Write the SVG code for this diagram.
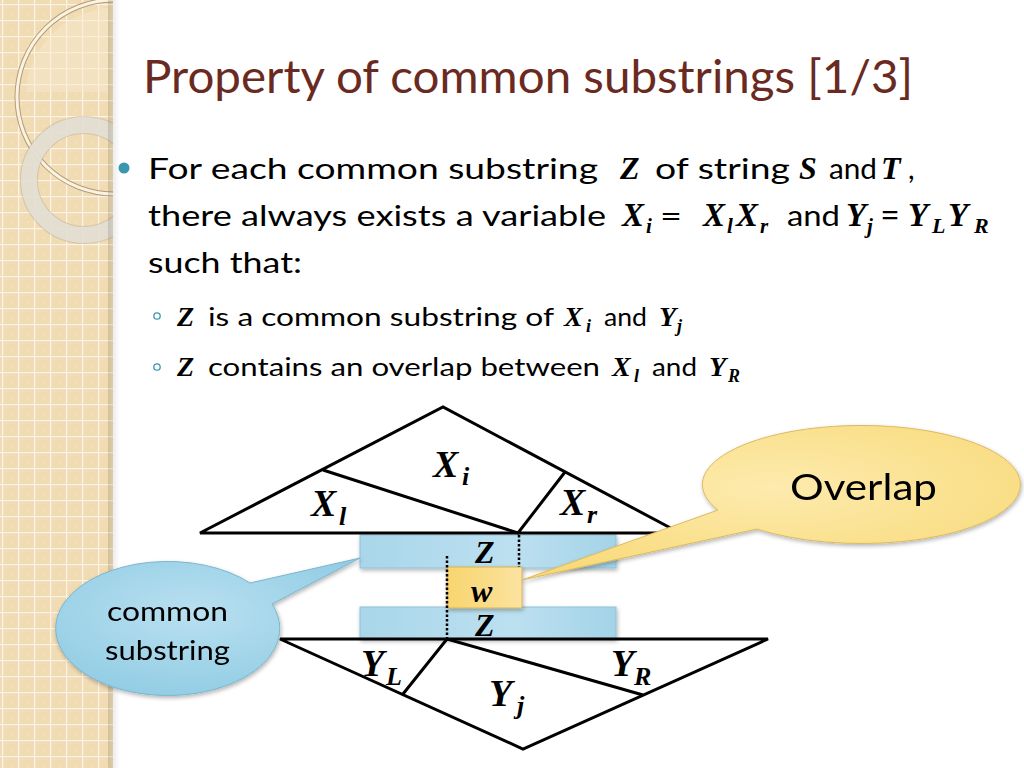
<svg xmlns="http://www.w3.org/2000/svg" width="1024" height="768" viewBox="0 0 1024 768">
<defs>
<style>
.body{font-family:Lato,"Open Sans","Liberation Sans",sans-serif;fill:#000}
.m{font-family:"Liberation Serif","DejaVu Serif",serif;font-style:italic;font-weight:bold;fill:#000}
.edge{stroke:#000;stroke-width:3;fill:none;stroke-linejoin:miter}
.dot{stroke:#000;stroke-width:2.5;stroke-dasharray:2.5 2;fill:none}
.lbl{font-family:"Liberation Serif","DejaVu Serif",serif;font-style:italic;font-weight:bold;fill:#000}
</style>
<pattern id="grid" width="16" height="16" patternUnits="userSpaceOnUse" x="2" y="4">
<rect width="16" height="16" fill="#F0DBB3"/>
<rect x="3" y="3" width="2" height="2" fill="#F5E4C4" opacity="0.6"/>
<rect x="9" y="9" width="2" height="2" fill="#F5E4C4" opacity="0.6"/>
<path d="M0 0.5H16M0.5 0V16" stroke="#FBF4E6" stroke-width="1.6"/>
</pattern>
<clipPath id="strip"><rect x="0" y="0" width="113" height="768"/></clipPath>
<linearGradient id="shadow" x1="0" x2="1" y1="0" y2="0">
<stop offset="0" stop-color="#000" stop-opacity="0.16"/>
<stop offset="1" stop-color="#000" stop-opacity="0"/>
</linearGradient>
<linearGradient id="blueBar" x1="0" x2="1" y1="0" y2="0">
<stop offset="0" stop-color="#A9D6EA"/>
<stop offset="0.6" stop-color="#BCE0F0"/>
<stop offset="1" stop-color="#A4D3E8"/>
</linearGradient>
<radialGradient id="blueCall" cx="0.45" cy="0.4" r="0.7">
<stop offset="0" stop-color="#B9E0F0"/>
<stop offset="1" stop-color="#8DCAE3"/>
</radialGradient>
<radialGradient id="yelCall" cx="0.5" cy="0.4" r="0.7">
<stop offset="0" stop-color="#FDEBAE"/>
<stop offset="1" stop-color="#F8D977"/>
</radialGradient>
<linearGradient id="yelBox" x1="0" x2="1" y1="0" y2="0">
<stop offset="0" stop-color="#F8D56E"/>
<stop offset="1" stop-color="#FBE3A0"/>
</linearGradient>
<filter id="sh" x="-10%" y="-10%" width="130%" height="130%">
<feGaussianBlur in="SourceAlpha" stdDeviation="2"/>
<feOffset dx="1" dy="2"/>
<feComponentTransfer><feFuncA type="linear" slope="0.3"/></feComponentTransfer>
<feMerge><feMergeNode/><feMergeNode in="SourceGraphic"/></feMerge>
</filter>
</defs>

<rect width="1024" height="768" fill="#FFFFFF"/>

<!-- left decorative strip -->
<g id="strip-bg" clip-path="url(#strip)">
<rect x="0" y="0" width="113" height="768" fill="url(#grid)"/>
<path d="M108 8 A90 90 0 0 0 26 92 L108 92 Z" fill="#F6E8CF" opacity="0.45"/>
<circle cx="114" cy="97" r="97" fill="none" stroke="#B59C74" stroke-width="5"/>
<circle cx="114" cy="97" r="97" fill="none" stroke="#FAF3E2" stroke-width="3"/>
<circle cx="84" cy="180" r="55" fill="none" stroke="#B8AE9C" stroke-width="18" opacity="0.5"/>
<circle cx="84" cy="180" r="55" fill="none" stroke="#E6E1D6" stroke-width="16" opacity="0.9"/>
</g>
<rect x="108" y="0" width="12" height="768" fill="url(#shadow)" opacity="0.8"/>

<!-- title -->
<text id="title" x="143" y="93" font-family="Lato,'Open Sans','Liberation Sans',sans-serif" font-size="47" fill="#6A2A1F" textLength="770" lengthAdjust="spacingAndGlyphs">Property of common substrings [1/3]</text>

<!-- bullets -->
<g id="bullets">
<circle cx="124" cy="168" r="5.5" fill="#3A97B0"/>
<text class="body" font-size="29" x="148" y="179" textLength="450" lengthAdjust="spacingAndGlyphs">For each common substring</text>
<text class="m" font-size="32" x="620" y="179">Z</text>
<text class="body" font-size="29" x="655" y="179" textLength="135" lengthAdjust="spacingAndGlyphs">of string</text>
<text class="m" font-size="32" x="799" y="179">S</text>
<text class="body" font-size="29" x="829" y="179" textLength="48" lengthAdjust="spacingAndGlyphs">and</text>
<text class="m" font-size="32" x="881" y="179">T</text>
<text class="body" font-size="29" x="908" y="179">,</text>

<text class="body" font-size="29" x="148" y="226" textLength="458" lengthAdjust="spacingAndGlyphs">there always exists a variable</text>
<text class="m" font-size="33" x="622" y="226">X</text>
<text class="m" font-size="21" x="646" y="233">i</text>
<text class="body" font-size="29" x="660" y="226" textLength="22" lengthAdjust="spacingAndGlyphs">=</text>
<text class="m" font-size="33" x="703" y="226">X</text>
<text class="m" font-size="21" x="727" y="233">l</text>
<text class="m" font-size="33" x="736" y="226">X</text>
<text class="m" font-size="21" x="760" y="233">r</text>
<text class="body" font-size="29" x="787" y="226" textLength="53" lengthAdjust="spacingAndGlyphs">and</text>
<text class="m" font-size="33" x="846" y="226">Y</text>
<text class="m" font-size="21" x="867" y="233">j</text>
<text class="m" font-size="31" x="881" y="226">=</text>
<text class="m" font-size="33" x="908" y="226">Y</text>
<text class="m" font-size="22" x="932" y="233">L</text>
<text class="m" font-size="33" x="948" y="226">Y</text>
<text class="m" font-size="22" x="974" y="233">R</text>

<text class="body" font-size="29" x="148" y="273" textLength="154" lengthAdjust="spacingAndGlyphs">such that:</text>

<circle cx="157" cy="316" r="3.2" fill="none" stroke="#3A97B0" stroke-width="1.3"/>
<text class="m" font-size="28" x="177" y="326">Z</text>
<text class="body" font-size="25" x="208" y="326" textLength="346" lengthAdjust="spacingAndGlyphs">is a common substring of</text>
<text class="m" font-size="28" x="564" y="326">X</text>
<text class="m" font-size="18" x="586" y="332">i</text>
<text class="body" font-size="25" x="604" y="326" textLength="43" lengthAdjust="spacingAndGlyphs">and</text>
<text class="m" font-size="28" x="659" y="326">Y</text>
<text class="m" font-size="18" x="677" y="332">j</text>

<circle cx="157" cy="367" r="3.2" fill="none" stroke="#3A97B0" stroke-width="1.3"/>
<text class="m" font-size="28" x="177" y="376">Z</text>
<text class="body" font-size="25" x="208" y="376" textLength="392" lengthAdjust="spacingAndGlyphs">contains an overlap between</text>
<text class="m" font-size="28" x="612" y="376">X</text>
<text class="m" font-size="18" x="634" y="382">l</text>
<text class="body" font-size="25" x="652" y="376" textLength="45" lengthAdjust="spacingAndGlyphs">and</text>
<text class="m" font-size="28" x="709" y="376">Y</text>
<text class="m" font-size="18" x="728" y="382">R</text>
</g>

<!-- diagram -->
<g id="bar-top"><rect x="360" y="535" width="256" height="33" fill="url(#blueBar)" stroke="#8DC3DA" stroke-width="1" filter="url(#sh)"/></g>
<g id="bar-bottom"><rect x="360" y="607" width="256" height="32" fill="url(#blueBar)" stroke="#8DC3DA" stroke-width="1" filter="url(#sh)"/></g>
<g id="w-box"><rect x="447" y="567" width="75" height="41" fill="url(#yelBox)" stroke="#D9B256" stroke-width="1" filter="url(#sh)"/></g>

<g id="connectors">
<path class="edge" d="M200 533 L443 407 L680 533 Z"/>
<path class="edge" d="M323 470 L518 533 L565 472"/>
<path class="edge" d="M280 639 L523 749 L768 639 Z"/>
<path class="edge" d="M403 694 L447 639 L643 695"/>
<line class="dot" x1="519" y1="535" x2="519" y2="567"/>
<line class="dot" x1="447" y1="556" x2="447" y2="639"/>
</g>

<g id="tri-labels">
<text class="lbl" font-size="38" x="433" y="477">X</text>
<text class="lbl" font-size="26" x="462" y="485">i</text>
<text class="lbl" font-size="38" x="311" y="516">X</text>
<text class="lbl" font-size="26" x="339" y="525">l</text>
<text class="lbl" font-size="38" x="560" y="515">X</text>
<text class="lbl" font-size="26" x="587" y="523">r</text>
<text class="lbl" font-size="32" x="475" y="563">Z</text>
<text class="lbl" font-size="32" x="471" y="602">w</text>
<text class="lbl" font-size="32" x="475" y="636">Z</text>
<text class="lbl" font-size="38" x="361" y="676">Y</text>
<text class="lbl" font-size="26" x="386" y="685">L</text>
<text class="lbl" font-size="38" x="489" y="706">Y</text>
<text class="lbl" font-size="26" x="517" y="714">j</text>
<text class="lbl" font-size="38" x="611" y="676">Y</text>
<text class="lbl" font-size="26" x="634" y="685">R</text>
</g>

<g id="callout-common" filter="url(#sh)">
<path d="M250 583 L360 558 L272 604 A112 67 0 1 1 250 583 Z" fill="url(#blueCall)" stroke="#79B6CF" stroke-width="1"/>
<text class="body" font-size="27" x="107" y="621" textLength="121" lengthAdjust="spacingAndGlyphs">common</text>
<text class="body" font-size="27" x="105" y="660" textLength="125" lengthAdjust="spacingAndGlyphs">substring</text>
</g>

<g id="callout-overlap" filter="url(#sh)">
<path d="M718 510 L522 580 L757 529 A159 59 0 1 0 718 510 Z" fill="url(#yelCall)" stroke="#DDBA5E" stroke-width="1"/>
<text class="body" font-size="36" x="790" y="500" textLength="147" lengthAdjust="spacingAndGlyphs">Overlap</text>
</g>
</svg>
